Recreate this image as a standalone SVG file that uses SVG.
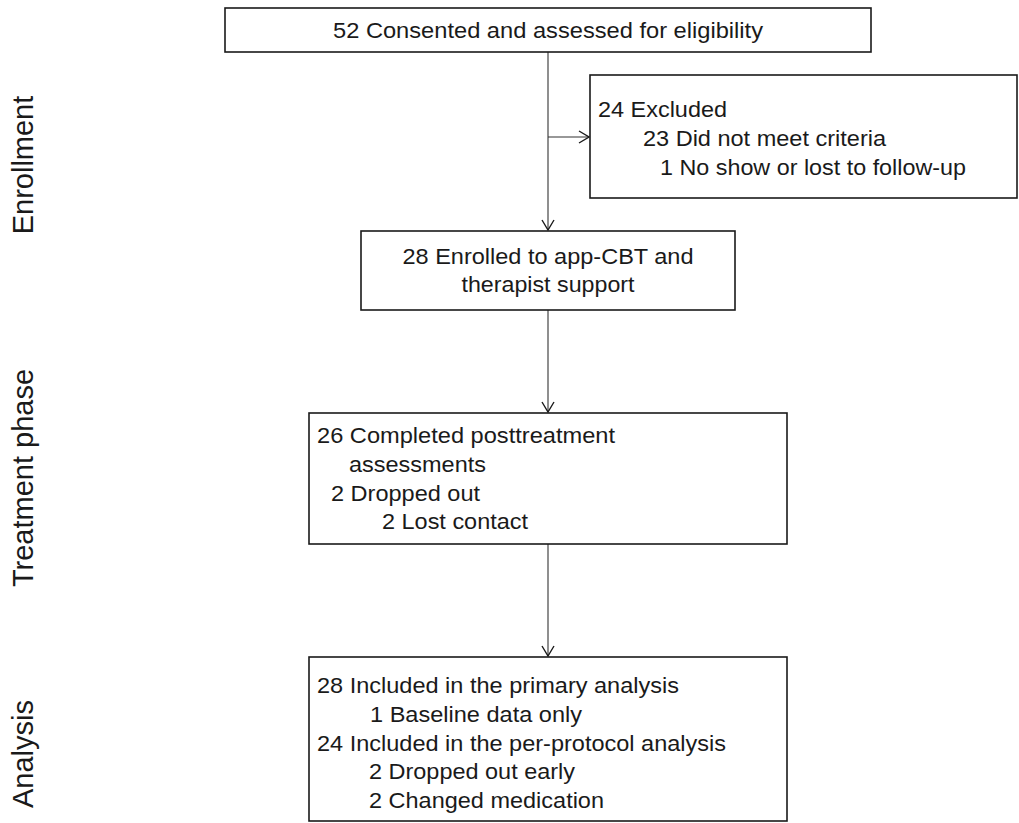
<svg xmlns="http://www.w3.org/2000/svg" width="1019" height="823" viewBox="0 0 1019 823">
<style>
.box{fill:#fff;stroke:#1a1a1a;stroke-width:1.6}
.t{font-family:"Liberation Sans",Arial,sans-serif;font-size:21.5px;fill:#1a1a1a}
.m{text-anchor:middle}
.lab{font-family:"Liberation Sans",Arial,sans-serif;font-size:29px;fill:#1a1a1a;text-anchor:middle}
.c{stroke:#333;stroke-width:1.1;fill:none}
</style>
<defs>
<marker id="ah" viewBox="0 0 12 14" refX="11" refY="7" markerWidth="12" markerHeight="14" markerUnits="userSpaceOnUse" orient="auto">
<path d="M1,1 L11,7 L1,13" fill="none" stroke="#1a1a1a" stroke-width="1.4"/>
</marker>
</defs>
<rect width="1019" height="823" fill="#fff"/>
<g id="labels">
<text class="lab" transform="translate(33,165) rotate(-90)">Enrollment</text>
<text class="lab" transform="translate(33,478) rotate(-90)">Treatment phase</text>
<text class="lab" transform="translate(33,754) rotate(-90)">Analysis</text>
</g>
<g id="connectors">
<line class="c" x1="548" y1="52" x2="548" y2="230" marker-end="url(#ah)"/>
<line class="c" x1="548" y1="137" x2="589" y2="137" marker-end="url(#ah)"/>
<line class="c" x1="548" y1="310" x2="548" y2="412" marker-end="url(#ah)"/>
<line class="c" x1="548" y1="544" x2="548" y2="656" marker-end="url(#ah)"/>
</g>
<g id="n1">
<rect class="box" x="225" y="8" width="646" height="44"/>
<text class="t m" x="548" y="38" textLength="430" lengthAdjust="spacingAndGlyphs">52 Consented and assessed for eligibility</text>
</g>
<g id="n2">
<rect class="box" x="590" y="75" width="427" height="123"/>
<text class="t" x="598" y="117" textLength="129" lengthAdjust="spacingAndGlyphs">24 Excluded</text>
<text class="t" x="643" y="146" textLength="243" lengthAdjust="spacingAndGlyphs">23 Did not meet criteria</text>
<text class="t" x="660" y="175" textLength="306" lengthAdjust="spacingAndGlyphs">1 No show or lost to follow-up</text>
</g>
<g id="n3">
<rect class="box" x="361" y="231" width="374" height="79"/>
<text class="t m" x="548" y="264" textLength="291" lengthAdjust="spacingAndGlyphs">28 Enrolled to app-CBT and</text>
<text class="t m" x="548" y="292" textLength="173" lengthAdjust="spacingAndGlyphs">therapist support</text>
</g>
<g id="n4">
<rect class="box" x="309" y="413" width="478" height="131"/>
<text class="t" x="317" y="443" textLength="298" lengthAdjust="spacingAndGlyphs">26 Completed posttreatment</text>
<text class="t" x="349" y="472" textLength="137" lengthAdjust="spacingAndGlyphs">assessments</text>
<text class="t" x="331" y="501" textLength="149" lengthAdjust="spacingAndGlyphs">2 Dropped out</text>
<text class="t" x="382" y="529" textLength="146" lengthAdjust="spacingAndGlyphs">2 Lost contact</text>
</g>
<g id="n5">
<rect class="box" x="309" y="657" width="478" height="164"/>
<text class="t" x="317" y="693" textLength="362" lengthAdjust="spacingAndGlyphs">28 Included in the primary analysis</text>
<text class="t" x="370" y="722" textLength="212" lengthAdjust="spacingAndGlyphs">1 Baseline data only</text>
<text class="t" x="317" y="751" textLength="409" lengthAdjust="spacingAndGlyphs">24 Included in the per-protocol analysis</text>
<text class="t" x="369" y="779" textLength="206" lengthAdjust="spacingAndGlyphs">2 Dropped out early</text>
<text class="t" x="369" y="808" textLength="235" lengthAdjust="spacingAndGlyphs">2 Changed medication</text>
</g>
</svg>
